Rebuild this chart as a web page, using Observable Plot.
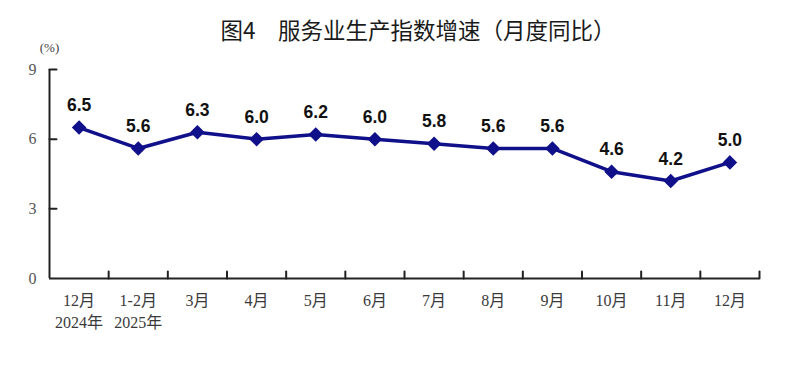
<!DOCTYPE html>
<html><head><meta charset="utf-8">
<script src="https://cdn.jsdelivr.net/npm/d3@7"></script>
<script src="https://cdn.jsdelivr.net/npm/@observablehq/plot@0.6"></script>
<style>
body{margin:0;background:#fff;}
#wrap{position:relative;width:800px;height:383px;}
#title{position:absolute;left:0;width:836px;top:13px;text-align:center;font-family:"Noto Sans CJK SC",sans-serif;font-size:22.5px;color:#1a1a1a;white-space:nowrap;}
</style></head>
<body><div id="wrap"><div id="title">图4　服务业生产指数增速（月度同比）</div></div>
<script>
const months = ["12月","1-2月","3月","4月","5月","6月","7月","8月","9月","10月","11月","12月"];
const years = ["2024年","2025年"];
const values = [6.5,5.6,6.3,6.0,6.2,6.0,5.8,5.6,5.6,4.6,4.2,5.0];
const yTicks = [0,3,6,9];
const unitLabel = "(%)";

const data = months.map((m,i)=>({i:i+0.5, m, v:values[i]}));
const yearData = years.map((y,i)=>({i:i+0.5, y}));
const boundaries = d3.range(0, months.length+1);
const navy = "#10108a";
const serif = "'Liberation Serif','Times New Roman','Noto Sans CJK SC',serif";
const tickShape = {draw(ctx,l){ctx.moveTo(0,0);ctx.lineTo(0,-l);}};

const chart = Plot.plot({
  width:800, height:383,
  marginLeft:49, marginRight:41, marginTop:69, marginBottom:105,
  x:{domain:[0, months.length], axis:null},
  y:{domain:[0,9], axis:null},
  marks:[
    Plot.ruleY([0],{stroke:"#222",strokeWidth:2}),
    Plot.ruleX([0],{stroke:"#222",strokeWidth:2}),
    Plot.vector(boundaries.slice(1),{x:d=>d, y:0, length:7, rotate:0, anchor:"start", stroke:"#222", strokeWidth:2, shape:tickShape}),
    Plot.vector(yTicks.slice(1),{x:0, y:d=>d, length:7, rotate:90, anchor:"start", stroke:"#222", strokeWidth:2, shape:tickShape}),
    Plot.text(yTicks,{x:0, y:d=>d, text:d=>String(d), dx:-17, fontFamily:serif, fontSize:16, fill:"#555"}),
    Plot.text([unitLabel],{x:0, y:9, text:d=>d, dy:-22, fontFamily:serif, fontSize:13, fill:"#444"}),
    Plot.text(data,{x:"i", y:0, text:"m", dy:22, fontFamily:serif, fontSize:16, fill:"#3a3a3a"}),
    Plot.text(yearData,{x:"i", y:0, text:"y", dy:44, fontFamily:serif, fontSize:16, fill:"#3a3a3a"}),
    Plot.line(data,{x:"i", y:"v", stroke:navy, strokeWidth:3.5}),
    Plot.dot(data,{x:"i", y:"v", symbol:"diamond2", r:5.6, fill:navy, stroke:navy}),
    Plot.text(data,{x:"i", y:"v", text:d=>d.v.toFixed(1), dy:-22, fontFamily:"'Liberation Sans',Arial,sans-serif", fontWeight:"bold", fontSize:17.5, fill:"#111"})
  ]
});
document.getElementById("wrap").prepend(chart);
</script></body></html>
